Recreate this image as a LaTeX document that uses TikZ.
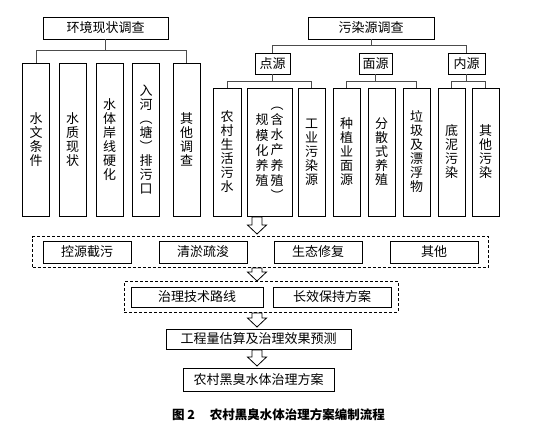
\documentclass[tikz,border=0pt]{standalone}
\usepackage{fontspec}
\setmainfont{Noto Sans CJK SC}
\usetikzlibrary{positioning, fit, calc}

\tikzset{
  box/.style={draw, line width=0.8pt, inner sep=0pt, font=\fontsize{13}{14}\selectfont},
  vbox/.style={box, minimum width=27pt, align=center},
  link/.style={draw=black!70, line width=0.8pt},
  dashbox/.style={draw, line width=0.8pt, dash pattern=on 3pt off 2pt},
  hollow/.style={draw, line width=0.8pt, fill=white, line join=miter}
}
\newcommand{\blockarrow}[3]{% centre x, top y, tip y
  \draw[hollow] (#1-5,#2) -- (#1+5,#2) -- (#1+5,#3-9) -- (#1+9.5,#3-9) -- (#1,#3) -- (#1-9.5,#3-9) -- (#1-5,#3-9) -- cycle;}

\begin{document}
\begin{tikzpicture}[x=1pt, y=-1pt]
      \path[fill=white] (0,0) rectangle (556,434);

      % Survey of the present state, on the left
      \node[box, minimum width=125pt, minimum height=22pt] at (105.5,28) (env) {环境现状调查};
      \node[vbox, minimum height=153pt] at (36,139.5) (hydro) {水\\文\\条\\件};
      \node[vbox, minimum height=153pt] at (72.5,139.5) (quality) {水\\质\\现\\状};
      \node[vbox, minimum height=153pt] at (109.5,139.5) (bank) {水\\体\\岸\\线\\硬\\化};
      \node[vbox, minimum height=153pt] at (146,139.5) (outlet) {入\\河\\︵\\塘\\︶\\排\\污\\口};
      \node[vbox, minimum height=153pt] at (186.5,139.5) (other) {其\\他\\调\\查};

      \draw[link] (env.south) -- ++(0,12);
      \draw[link] (hydro.north) -- ++(0,-12) -| (other.north);

      % Survey of the pollution sources, on the right
      \node[box, minimum width=126pt, minimum height=22pt] at (371,28) (pol) {污染源调查};
      \node[box, minimum width=35pt, minimum height=21pt] at (272.5,63.5) (point) {点源};
      \node[box, minimum width=33pt, minimum height=21pt] at (375.5,63.5) (area) {面源};
      \node[box, minimum width=37pt, minimum height=21pt] at (466.5,63.5) (inner) {内源};

      \node[vbox, minimum width=28pt, minimum height=128pt] at (227,152) (sewage) {农\\村\\生\\活\\污\\水};
      \node[box, minimum width=45pt, minimum height=128pt] at (269.5,152) (farm) {\begin{tabular}[c]{@{}c@{}}规\\模\\化\\养\\殖\end{tabular}\hspace{2pt}\begin{tabular}[c]{@{}c@{}}︵\\含\\水\\产\\养\\殖\\︶\end{tabular}};
      \node[vbox, minimum height=128pt] at (311.5,152) (industry) {工\\业\\污\\染\\源};
      \node[vbox, minimum height=128pt] at (346.5,152) (crop) {种\\植\\业\\面\\源};
      \node[vbox, minimum height=128pt] at (381.5,152) (scatter) {分\\散\\式\\养\\殖};
      \node[vbox, minimum height=128pt] at (416.5,152) (waste) {垃\\圾\\及\\漂\\浮\\物};
      \node[vbox, minimum height=128pt] at (451.5,152) (sludge) {底\\泥\\污\\染};
      \node[vbox, minimum height=128pt] at (485.5,152) (rest) {其\\他\\污\\染};

      \draw[link] (pol.south) -- ++(0,7);
      \draw[link] (point.north) -- ++(0,-7) -| (inner.north);
      \draw[link] (point.south) -- ++(0,7.5);
      \draw[link] (sewage.north) -- ++(0,-6.5) -| (industry.north);
      \draw[link] (area.south) -- ++(0,7.5);
      \draw[link] (crop.north) -- ++(0,-6.5) -| (waste.north);
      \draw[link] (inner.south) -- ++(0,7.5);
      \draw[link] (sludge.north) -- ++(0,-6.5) -| (rest.north);

      % Measures
      \node[box, minimum width=88pt, minimum height=22pt] at (87,252) (cut) {控源截污};
      \node[box, minimum width=88pt, minimum height=22pt] at (203,252) (dredge) {清淤疏浚};
      \node[box, minimum width=88pt, minimum height=22pt] at (318,252) (eco) {生态修复};
      \node[box, minimum width=88pt, minimum height=22pt] at (434,252) (misc) {其他};
      \node[dashbox, fit=(cut)(misc), inner xsep=10pt, inner ysep=4pt] (measures) {};

      \node[box, minimum width=132pt, minimum height=20pt] at (197,297) (route) {治理技术路线};
      \node[box, minimum width=118pt, minimum height=20pt] at (332,297) (keep) {长效保持方案};
      \node[dashbox, fit=(route)(keep), inner xsep=6.5pt, inner ysep=5pt] (plans) {};

      \node[box, minimum width=185pt, minimum height=20pt] at (258.5,339) (estimate) {工程量估算及治理效果预测};
      \node[box, minimum width=151pt, minimum height=23pt] at (258.5,380) (scheme) {农村黑臭水体治理方案};

      \blockarrow{257}{217}{234}
      \blockarrow{257}{268}{281}
      \blockarrow{257}{313}{327}
      \blockarrow{257}{350}{366}

      \node[font=\fontsize{12.5}{14}\selectfont\bfseries] at (278.5,415) (caption) {图 2\hspace{1.2em}农村黑臭水体治理方案编制流程};
\end{tikzpicture}
\end{document}
